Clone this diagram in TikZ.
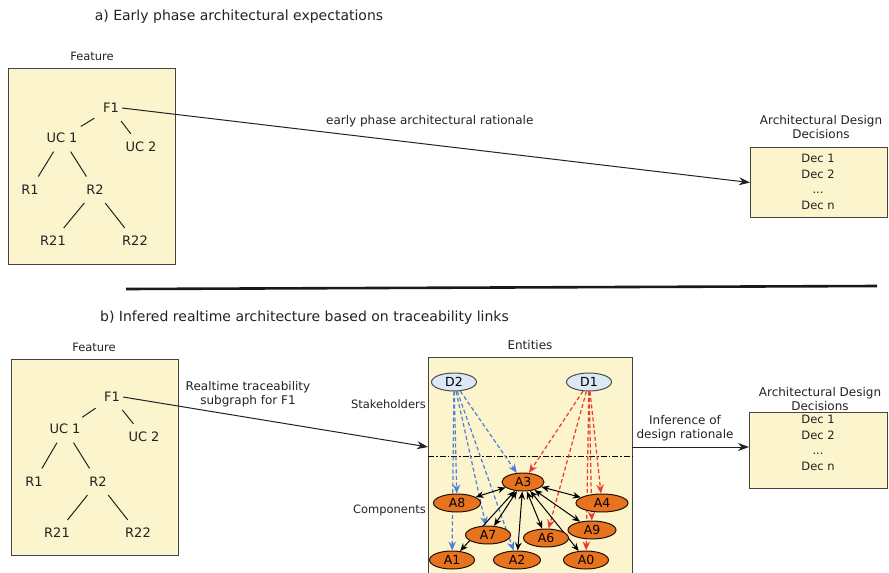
\documentclass[tikz,border=0pt]{standalone}
\usepackage{fontspec}
\setmainfont{DejaVu Sans}
\usetikzlibrary{arrows.meta,shapes.geometric}
\pgfdeclarelayer{boxes}
\pgfdeclarelayer{edges}
\pgfsetlayers{boxes,edges,main}

\definecolor{paper}{HTML}{FBF4CC}
\definecolor{ink}{HTML}{222222}
\definecolor{frame}{HTML}{45453F}
\definecolor{compfill}{HTML}{E8731F}
\definecolor{stakefill}{HTML}{DDE8F6}
\definecolor{bluelink}{HTML}{4F80D6}
\definecolor{redlink}{HTML}{EE3A2C}

\begin{document}
\begin{tikzpicture}[x=1pt,y=-1pt,
  heading/.style={font=\fontsize{14}{17}\selectfont, text=ink, inner sep=0pt},
  caption/.style={font=\fontsize{12}{14.5}\selectfont, text=ink, align=center, inner sep=0pt},
  smallcap/.style={font=\fontsize{11.5}{14}\selectfont, text=ink, inner sep=0pt},
  tree/.style={font=\fontsize{13}{15}\selectfont, text=ink, inner sep=3pt},
  treeedge/.style={draw=ink, line width=1pt, shorten <=6.5pt, shorten >=6.5pt},
  panel/.style={draw=frame, fill=paper, line width=1.1pt, inner sep=0pt},
  dectext/.style={font=\fontsize{11.5}{15.5}\selectfont, text=ink, align=center, inner sep=0pt},
  flow/.style={draw=ink, line width=1pt, -{Stealth[length=11pt,width=8pt]}},
  comp/.style={ellipse, draw=black!85!compfill, fill=compfill, line width=1pt,
    minimum width=45pt, minimum height=18pt, inner sep=0pt, font=\fontsize{12.5}{14}\selectfont, text=black},
  stake/.style={ellipse, draw=black!70, fill=stakefill, line width=1pt,
    minimum width=45pt, minimum height=18pt, inner sep=0pt, font=\fontsize{12.5}{14}\selectfont, text=black},
  bluedash/.style={draw=bluelink, line width=1.2pt, dash pattern=on 4pt off 2.5pt,
    -{Stealth[length=9pt,width=7.5pt]}},
  reddash/.style={draw=redlink, line width=1.2pt, dash pattern=on 4pt off 2.5pt,
    -{Stealth[length=9pt,width=7.5pt]}},
  link/.style={draw=black, line width=1pt,
    {Stealth[length=8pt,width=6.5pt]}-{Stealth[length=8pt,width=6.5pt]}},
]
\useasboundingbox (0,0) rectangle (889,573);

% ---------------- a) early phase ----------------
\node[heading] (titleA) at (239,17) {a) Early phase architectural expectations};

\begin{pgfonlayer}{boxes}
  \node[panel, minimum width=167pt, minimum height=196pt, anchor=north west] (featA) at (8,68) {};
  \node[panel, minimum width=137pt, minimum height=70pt, anchor=north west] (decA) at (750,147) {};
\end{pgfonlayer}
\node[smallcap] (featAlbl) at (92,56) {Feature};

\node[tree] (aF1)  at (111,108) {F1};
\node[tree] (aUC1) at (62,138)  {UC 1};
\node[tree] (aUC2) at (141,147) {UC 2};
\node[tree] (aR1)  at (30,190)  {R1};
\node[tree] (aR2)  at (95,190)  {R2};
\node[tree] (aR21) at (53,241)  {R21};
\node[tree] (aR22) at (135,241) {R22};
\draw[treeedge] (aF1) -- (aUC1);
\draw[treeedge] (aF1) -- (aUC2);
\draw[treeedge] (aUC1) -- (aR1);
\draw[treeedge] (aUC1) -- (aR2);
\draw[treeedge] (aR2) -- (aR21);
\draw[treeedge] (aR2) -- (aR22);

\node[caption] (decAlbl) at (821,127) {Architectural Design\\Decisions};
\node[dectext] (decAtxt) at (818,182) {Dec 1\\Dec 2\\...\\Dec n};

\draw[flow] (aF1.east) -- (decA.west)
  node[pos=0.49, yshift=23pt, caption] (ratA) {early phase architectural rationale};

% separator
\coordinate (ruleL) at (126,289);
\coordinate (ruleR) at (877,286);
\draw[line width=2.6pt, draw=black!90] (ruleL) -- (ruleR);

% ---------------- b) realtime ----------------
\node[heading, anchor=west] (titleB) at (100,318) {b) Infered realtime architecture based on traceability links};

\begin{pgfonlayer}{boxes}
  \node[panel, minimum width=167pt, minimum height=196pt, anchor=north west] (featB) at (11,359) {};
  \node[panel, minimum width=204pt, minimum height=218pt, anchor=north west] (ent) at (428,357) {};
  \node[panel, minimum width=138pt, minimum height=76pt, anchor=north west] (decB) at (749,412) {};
\end{pgfonlayer}
\node[smallcap] (featBlbl) at (94,347) {Feature};
\node[caption] (entlbl) at (530,345) {Entities};

\node[tree] (bF1)  at (112,397) {F1};
\node[tree] (bUC1) at (65,429)  {UC 1};
\node[tree] (bUC2) at (144,437) {UC 2};
\node[tree] (bR1)  at (34,482)  {R1};
\node[tree] (bR2)  at (98,482)  {R2};
\node[tree] (bR21) at (57,533)  {R21};
\node[tree] (bR22) at (138,533) {R22};
\draw[treeedge] (bF1) -- (bUC1);
\draw[treeedge] (bF1) -- (bUC2);
\draw[treeedge] (bUC1) -- (bR1);
\draw[treeedge] (bUC1) -- (bR2);
\draw[treeedge] (bR2) -- (bR21);
\draw[treeedge] (bR2) -- (bR22);

\node[caption] (subglbl) at (248,394) {Realtime traceability\\subgraph for F1};
\coordinate (entIn) at (428,447);
\draw[flow] (bF1.east) -- (entIn);

\node[smallcap, anchor=east] (stakelbl) at (426,404) {Stakeholders};
\node[smallcap, anchor=east] (complbl) at (426,510) {Components};

\node[caption] (decBlbl) at (820,399) {Architectural Design\\Decisions};
\node[dectext] (decBtxt) at (818,443) {Dec 1\\Dec 2\\...\\Dec n};

\coordinate (entOut) at (632,447);
\draw[flow] (entOut) -- (entOut -| decB.west);
\node[caption] (inflbl) at (685,428) {Inference of\\design rationale};

% layer boundary inside the entity panel
\coordinate (sepL) at (428,456);
\coordinate (sepR) at (632,456);

% stakeholders
\node[stake] (D2) at (454,382) {D2};
\node[stake] (D1) at (589,382) {D1};

% components
\node[comp, minimum width=42pt] (A3) at (523,482) {A3};
\node[comp, minimum width=47pt] (A8) at (457,503) {A8};
\node[comp, minimum width=52pt] (A4) at (602,503) {A4};
\node[comp] (A7) at (488,535) {A7};
\node[comp, minimum width=48pt] (A9) at (592,530) {A9};
\node[comp] (A6) at (546,538) {A6};
\node[comp] (A1) at (452,560) {A1};
\node[comp, minimum width=47pt] (A2) at (517,560) {A2};
\node[comp] (A0) at (586,560) {A0};

\begin{pgfonlayer}{edges}
  \draw[black, line width=0.9pt, dash pattern=on 6pt off 2pt on 1.5pt off 2pt] (sepL) -- (sepR);
  % stakeholder D2
  \draw[bluedash] (D2) -- (A1);
  \draw[bluedash] (D2) -- (A8);
  \draw[bluedash] (D2) -- (A7);
  \draw[bluedash] (D2) -- (A2);
  \draw[bluedash] (D2) -- (A3);
  % stakeholder D1
  \draw[reddash] (D1) -- (A3);
  \draw[reddash] (D1) -- (A6);
  \draw[reddash] (D1) -- (A0);
  \draw[reddash] (D1) -- (A9);
  \draw[reddash] (D1) -- (A4);
  % component dependencies
  \foreach \c in {A8,A4,A7,A9,A6,A1,A2,A0}
    \draw[link] (A3) -- (\c);
\end{pgfonlayer}
\end{tikzpicture}
\end{document}
